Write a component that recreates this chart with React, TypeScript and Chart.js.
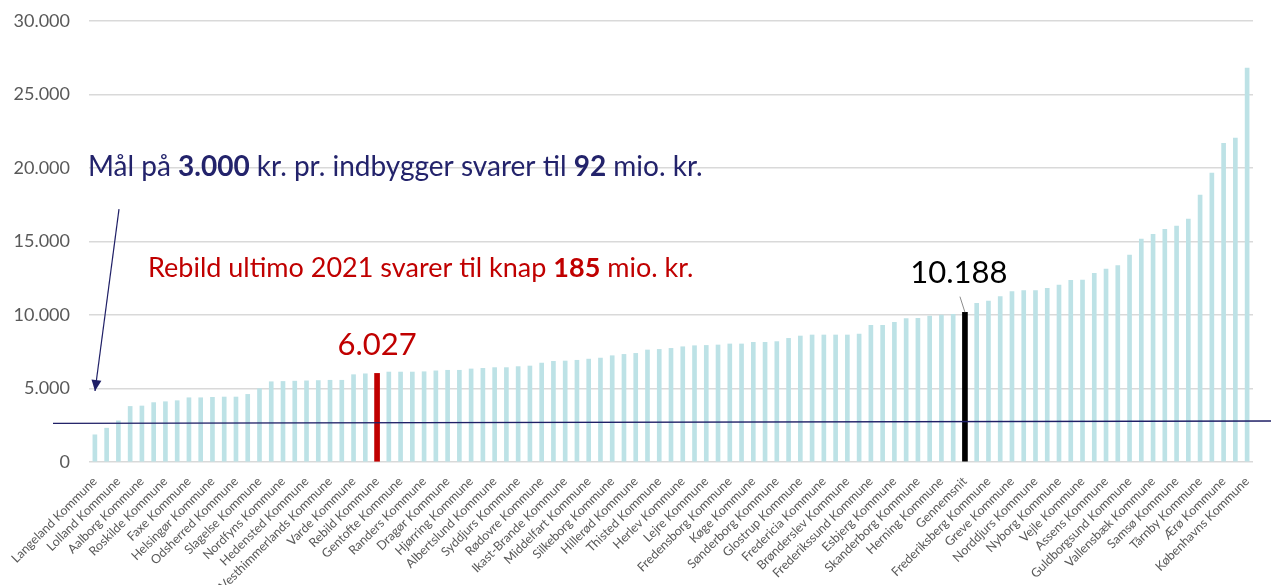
import React, { useEffect, useRef } from "react";
import { Chart, registerables } from "chart.js";

Chart.register(...registerables);

const municipalities: string[] = [
  "Langeland Kommune", "Læsø Kommune", "Lolland Kommune", "Fanø Kommune", "Aalborg Kommune", "Bornholms Kommune",
  "Roskilde Kommune", "Morsø Kommune", "Faxe Kommune", "Stevns Kommune", "Helsingør Kommune", "Vordingborg Kommune",
  "Odsherred Kommune", "Kalundborg Kommune", "Slagelse Kommune", "Tønder Kommune", "Nordfyns Kommune", "Lemvig Kommune",
  "Hedensted Kommune", "Struer Kommune", "Vesthimmerlands Kommune", "Jammerbugt Kommune", "Varde Kommune", "Skive Kommune",
  "Rebild Kommune", "Mariagerfjord Kommune", "Gentofte Kommune", "Holbæk Kommune", "Randers Kommune", "Sorø Kommune",
  "Dragør Kommune", "Kerteminde Kommune", "Hjørring Kommune", "Frederikshavn Kommune", "Albertslund Kommune", "Ringsted Kommune",
  "Syddjurs Kommune", "Næstved Kommune", "Rødovre Kommune", "Vejen Kommune", "Ikast-Brande Kommune", "Haderslev Kommune",
  "Middelfart Kommune", "Aabenraa Kommune", "Silkeborg Kommune", "Holstebro Kommune", "Hillerød Kommune", "Viborg Kommune",
  "Thisted Kommune", "Ringkøbing-Skjern Kommune", "Herlev Kommune", "Faaborg-Midtfyn Kommune", "Lejre Kommune", "Svendborg Kommune",
  "Fredensborg Kommune", "Halsnæs Kommune", "Køge Kommune", "Billund Kommune", "Sønderborg Kommune", "Kolding Kommune",
  "Glostrup Kommune", "Horsens Kommune", "Fredericia Kommune", "Odder Kommune", "Brønderslev Kommune", "Favrskov Kommune",
  "Frederikssund Kommune", "Gribskov Kommune", "Esbjerg Kommune", "Solrød Kommune", "Skanderborg Kommune", "Ishøj Kommune",
  "Herning Kommune", "Odense Kommune", "Gennemsnit", "Aarhus Kommune", "Frederiksberg Kommune", "Egedal Kommune",
  "Greve Kommune", "Høje-Taastrup Kommune", "Norddjurs Kommune", "Brøndby Kommune", "Nyborg Kommune", "Hvidovre Kommune",
  "Vejle Kommune", "Ballerup Kommune", "Assens Kommune", "Furesø Kommune", "Guldborgsund Kommune", "Gladsaxe Kommune",
  "Vallensbæk Kommune", "Allerød Kommune", "Samsø Kommune", "Lyngby-Taarbæk Kommune", "Tårnby Kommune", "Hørsholm Kommune",
  "Ærø Kommune", "Rudersdal Kommune", "Københavns Kommune",
];

const values: number[] = [
  1850, 2300, 2800, 3780, 3810, 4040, 4100, 4170, 4370, 4370,
  4400, 4420, 4420, 4600, 4990, 5460, 5480, 5500, 5520, 5540,
  5560, 5560, 5940, 6000, 6027, 6120, 6120, 6120, 6140, 6200,
  6240, 6240, 6330, 6370, 6420, 6420, 6490, 6530, 6730, 6850,
  6870, 6920, 7000, 7070, 7230, 7320, 7390, 7620, 7660, 7730,
  7840, 7910, 7930, 7960, 8030, 8030, 8140, 8140, 8190, 8410,
  8570, 8640, 8640, 8640, 8640, 8710, 9300, 9300, 9500, 9750,
  9770, 9930, 10000, 10040, 10188, 10800, 10950, 11250, 11590, 11660,
  11660, 11810, 12040, 12360, 12380, 12830, 13130, 13360, 14080, 15170,
  15490, 15830, 16050, 16530, 18160, 19660, 21680, 22040, 26800,
];

const highlightName = ["Rebild Kommune", "Gennemsnit"];
const highlightColors = ["#c00000", "#000000"];
const highlightLabels = ["6.027", "10.188"];
const yTicks: number[] = [0, 5000, 10000, 15000, 20000, 25000, 30000];
const targetLine: number[] = [2630, 2790];
const targetText = [
  { t: "Mål på ", b: false },
  { t: "3.000", b: true },
  { t: " kr. pr. indbygger svarer til ", b: false },
  { t: "92", b: true },
  { t: " mio. kr.", b: false },
];
const rebildText = [
  { t: "Rebild ultimo 2021 svarer til knap ", b: false },
  { t: "185", b: true },
  { t: " mio. kr.", b: false },
];

const FONT = "Lato, 'Open Sans', sans-serif";
const fmt = (v: number) => v.toLocaleString("da-DK").replace(/,/g, ".");

function drawRich(ctx: CanvasRenderingContext2D, segs: { t: string; b: boolean }[], x: number, y: number, size: number, color: string) {
  ctx.save();
  ctx.fillStyle = color;
  ctx.textBaseline = "alphabetic";
  ctx.textAlign = "left";
  let cx = x;
  for (const s of segs) {
    ctx.font = `${s.b ? "bold " : ""}${size}px ${FONT}`;
    ctx.fillText(s.t, cx, y);
    cx += ctx.measureText(s.t).width;
  }
  ctx.restore();
}

const annotations = {
  id: "annotations",
  afterDatasetsDraw(chart: any) {
    const { ctx, scales, chartArea } = chart;
    const x = scales.x;
    const y = scales.y;
    // target line
    ctx.save();
    ctx.strokeStyle = "#1f1f66";
    ctx.lineWidth = 1.3;
    ctx.beginPath();
    ctx.moveTo(chartArea.left - 36, y.getPixelForValue(targetLine[0]));
    ctx.lineTo(chart.width, y.getPixelForValue(targetLine[1]));
    ctx.stroke();

    // arrow
    const ax1 = chartArea.left + 30, ay1 = y.getPixelForValue(17200);
    const ax2 = chartArea.left + 6, ay2 = y.getPixelForValue(4830);
    ctx.strokeStyle = "#1f1f66";
    ctx.fillStyle = "#1f1f66";
    ctx.lineWidth = 1.2;
    ctx.beginPath();
    ctx.moveTo(ax1, ay1);
    ctx.lineTo(ax2, ay2);
    ctx.stroke();
    const ang = Math.atan2(ay2 - ay1, ax2 - ax1);
    const L = 11, W = 5;
    ctx.beginPath();
    ctx.moveTo(ax2, ay2);
    ctx.lineTo(ax2 - L * Math.cos(ang) + W * Math.sin(ang), ay2 - L * Math.sin(ang) - W * Math.cos(ang));
    ctx.lineTo(ax2 - L * Math.cos(ang) - W * Math.sin(ang), ay2 - L * Math.sin(ang) + W * Math.cos(ang));
    ctx.closePath();
    ctx.fill();
    ctx.restore();

    drawRich(ctx, targetText, chartArea.left - 1, y.getPixelForValue(19450), 28, "#23236b");
    drawRich(ctx, rebildText, chartArea.left + 59, y.getPixelForValue(12600), 27, "#c00000");

    // highlight value labels
    const i1 = municipalities.indexOf(highlightName[0]);
    const i2 = municipalities.indexOf(highlightName[1]);
    ctx.save();
    ctx.textAlign = "center";
    ctx.textBaseline = "alphabetic";
    ctx.font = `31px ${FONT}`;
    ctx.fillStyle = highlightColors[0];
    ctx.fillText(highlightLabels[0], x.getPixelForValue(i1), y.getPixelForValue(7280));
    ctx.fillStyle = highlightColors[1];
    ctx.fillText(highlightLabels[1], x.getPixelForValue(i2) - 6, y.getPixelForValue(12150));
    // leader line
    ctx.strokeStyle = "#8c8c8c";
    ctx.lineWidth = 1;
    ctx.beginPath();
    ctx.moveTo(x.getPixelForValue(i2) - 5, y.getPixelForValue(11250));
    ctx.lineTo(x.getPixelForValue(i2), y.getPixelForValue(10188));
    ctx.stroke();
    ctx.restore();
  },
};

export default function App() {
  const ref = useRef<HTMLCanvasElement | null>(null);
  useEffect(() => {
    document.body.style.margin = "0";
    if (!ref.current) return;
    const base = values.map((v, i) => (highlightName.includes(municipalities[i]) ? null : v));
    const hi = values.map((v, i) => (highlightName.includes(municipalities[i]) ? v : null));
    const hiColors = municipalities.map((m) => {
      const k = highlightName.indexOf(m);
      return k >= 0 ? highlightColors[k] : "rgba(0,0,0,0)";
    });
    const chart = new Chart(ref.current, {
      type: "bar",
      data: {
        labels: municipalities,
        datasets: [
          { data: base, backgroundColor: "#bde2e6", barThickness: 4, grouped: false } as any,
          { data: hi, backgroundColor: hiColors, barThickness: 5, grouped: false } as any,
        ],
      },
      options: {
        animation: false,
        responsive: false,
        maintainAspectRatio: false,
        layout: { autoPadding: false, padding: { top: 21, right: 18, left: 0, bottom: 0 } },
        plugins: { legend: { display: false }, tooltip: { enabled: false } },
        scales: {
          x: {
            grid: { display: false },
            border: { display: false },
            ticks: {
              autoSkip: false,
              maxRotation: 45,
              minRotation: 45,
              color: "#595959",
              font: { family: FONT, size: 12.5 },
              padding: 4,
              callback: (_v: any, i: number) => (i % 2 === 0 ? municipalities[i] : ""),
            },
            afterFit: (s: any) => { s.height = 123; s.paddingLeft = 0; s.paddingRight = 0; },
          },
          y: {
            min: 0,
            max: 30000,
            afterBuildTicks: (s: any) => { s.ticks = yTicks.map((v) => ({ value: v })); },
            grid: { color: "#d9d9d9", lineWidth: 1.5, drawTicks: false },
            border: { display: false },
            ticks: {
              color: "#595959",
              font: { family: FONT, size: 18 },
              padding: 19,
              callback: (v: any) => fmt(Number(v)),
            },
            afterFit: (s: any) => { s.width = 89; s.paddingTop = 0; s.paddingBottom = 0; },
          },
        },
      },
      plugins: [annotations],
    });
    return () => chart.destroy();
  }, []);
  return (
    <div style={{ width: 1271, height: 585, position: "relative" }}>
      <canvas ref={ref} width={1271} height={585} style={{ display: "block" }} />
    </div>
  );
}
